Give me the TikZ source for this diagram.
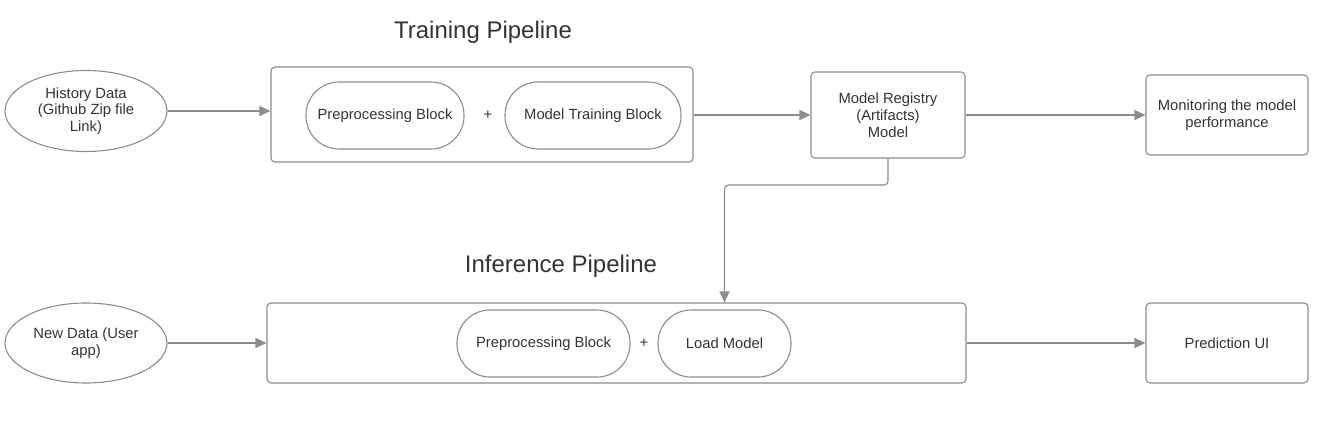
\documentclass[tikz,border=0pt]{standalone}
\usepackage{fontspec}
\setmainfont{Liberation Sans}
\usepackage{tikz}
\usetikzlibrary{arrows.meta,shapes.geometric}
\definecolor{linea}{HTML}{8C8C8C}
\definecolor{texto}{HTML}{333333}

\begin{document}
\begin{tikzpicture}[x=1pt, y=-1pt,
  every node/.style={text=texto, font=\fontsize{14.8}{16.8}\selectfont},
  datos/.style={draw=linea, line width=1.1pt, ellipse, minimum width=162pt, minimum height=81pt, inner sep=0pt, align=center},
  caja/.style={draw=linea, line width=1.1pt, rounded corners=4pt, inner sep=0pt, align=center},
  bloque/.style={draw=linea, line width=1.1pt, rounded corners=33pt, minimum height=67pt, inner sep=0pt, align=center},
  titulo/.style={font=\fontsize{24}{28}\selectfont},
  flujo/.style={-{Triangle[length=11pt,width=10pt]}, draw=linea, line width=1.1pt}]
\useasboundingbox (0,0) rectangle (1320,431);
% training
\node[titulo] (trainT) at (483,32) {Training Pipeline};
\node[datos] (hist) at (86,111) {History Data\\(Github Zip file\\Link)};
\node[caja, minimum width=422pt, minimum height=95pt] (train) at (482,114.5) {};
\node[bloque, minimum width=158pt] (prep) at (385,115.5) {Preprocessing Block};
\node (plusA) at (488,115.5) {+};
\node[bloque, minimum width=176pt] (mtrain) at (593,115.5) {Model Training Block};
\node[caja, minimum width=154pt, minimum height=86pt] (reg) at (888,115) {Model Registry\\(Artifacts)\\Model};
\node[caja, minimum width=162pt, minimum height=80pt] (mon) at (1227,115) {Monitoring the model\\performance};
% inference
\node[titulo] (inferT) at (561,266) {Inference Pipeline};
\node[datos, minimum height=80pt] (new) at (86,343) {New Data (User\\app)};
\node[caja, minimum width=699pt, minimum height=80pt] (infer) at (616.5,343) {};
\node[bloque, minimum width=173pt] (prepB) at (543.5,343.5) {Preprocessing Block};
\node (plusB) at (644,343.5) {+};
\node[bloque, minimum width=133pt] (load) at (724.5,343.5) {Load Model};
\node[caja, minimum width=162pt, minimum height=80pt] (pred) at (1227,343) {Prediction UI};
\coordinate (codo) at (888,185);

\draw[flujo] (hist.east) -- (hist.east -| train.west);
\draw[flujo] (train.east |- reg) -- (reg.west);
\draw[flujo] (reg.east) -- (reg.east -| mon.west);
\draw[flujo] (new.east) -- (new.east -| infer.west);
\draw[flujo] (infer.east) -- (infer.east -| pred.west);
\draw[flujo, rounded corners=4pt] (reg.south) -- (codo) -| (load |- infer.north);
\end{tikzpicture}
\end{document}
